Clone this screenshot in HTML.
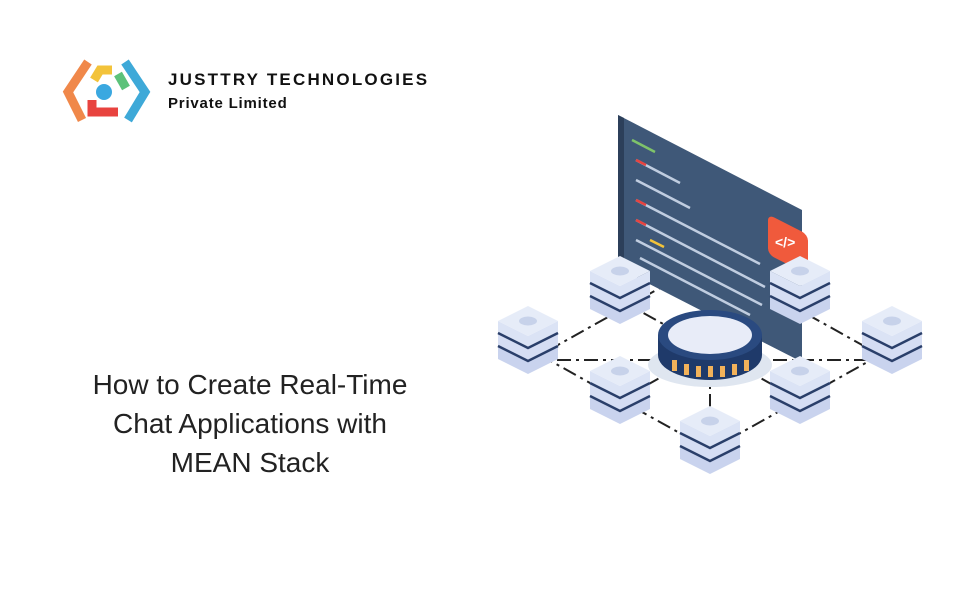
<!DOCTYPE html>
<html><head><meta charset="utf-8"><style>
body{margin:0;width:960px;height:600px;background:#fff;overflow:hidden;position:relative;font-family:"Liberation Sans",sans-serif}
.t{position:absolute;left:40px;width:420px;text-align:center;font-size:28px;color:#222;line-height:39px;top:365px}
.l1{position:absolute;left:168px;top:70px;font-size:17px;font-weight:bold;letter-spacing:2.2px;color:#111}
.l2{position:absolute;left:168px;top:95px;font-size:15px;font-weight:bold;letter-spacing:0.8px;color:#111}
</style></head><body>
<svg width="960" height="600" style="position:absolute;left:0;top:0">
<g stroke-width="9" fill="none" stroke-linecap="butt">
<path d="M88 62 L68 92 L82 120" stroke="#f0884a"/>
<path d="M94 80 L100 70 L112 70" stroke="#f3c33a"/>
<path d="M118 74 L126 88" stroke="#5cc27a"/>
<path d="M125 62 L145 92 L128 120" stroke="#3ea9d8"/>
<path d="M92 100 L92 112 L118 112" stroke="#e8433f"/>
</g>
<circle cx="104" cy="92" r="8" fill="#3aa8e0"/>
<g stroke="#222" stroke-width="2" stroke-dasharray="14 5 3 5" fill="none">
<path d="M540 355 L710 450 L880 355 L710 260 Z"/>
<path d="M530 360 L890 360"/>
<path d="M710 340 L710 445"/>
<path d="M620 300 L800 400 M800 300 L620 400"/>
</g>
<polygon points="618,115 802,210 802,362 618,268" fill="#3f5878"/>
<polygon points="618,115 624,118 624,271 618,268" fill="#2c3f5a"/>
<g stroke-width="2.5">
<line x1="632" y1="140" x2="655" y2="152" stroke="#7fc36a"/>
<line x1="636" y1="160" x2="680" y2="183" stroke="#c0cde0"/>
<line x1="636" y1="180" x2="690" y2="208" stroke="#c0cde0"/>
<line x1="636" y1="200" x2="760" y2="264" stroke="#c0cde0"/>
<line x1="636" y1="220" x2="765" y2="287" stroke="#c0cde0"/>
<line x1="636" y1="240" x2="762" y2="305" stroke="#c0cde0"/>
<line x1="640" y1="258" x2="750" y2="315" stroke="#c0cde0"/>
<line x1="636" y1="160" x2="646" y2="165" stroke="#e8433f"/>
<line x1="636" y1="200" x2="646" y2="205" stroke="#e8433f"/>
<line x1="636" y1="220" x2="646" y2="225" stroke="#e8433f"/>
<line x1="650" y1="240" x2="664" y2="247" stroke="#f3c33a"/>
</g>
<rect x="768" y="215" width="40" height="40" rx="6" fill="#f05a3c" transform="skewY(27) translate(0,-392)"/>
<text x="775" y="247" font-size="14" font-weight="bold" fill="#fff" font-family="Liberation Sans">&lt;/&gt;</text>
<ellipse cx="710" cy="365" rx="62" ry="22" fill="#dfe6f0"/>
<path d="M658 335 L658 355 A52 25 0 0 0 762 355 L762 335 Z" fill="#1f3a6a"/>
<g fill="#f2b25a">
<rect x="672" y="360" width="5" height="11"/><rect x="684" y="364" width="5" height="11"/><rect x="696" y="366" width="5" height="11"/><rect x="708" y="366" width="5" height="11"/><rect x="720" y="366" width="5" height="11"/><rect x="732" y="364" width="5" height="11"/><rect x="744" y="360" width="5" height="11"/>
</g>
<ellipse cx="710" cy="335" rx="52" ry="25" fill="#2a4a80"/>
<ellipse cx="710" cy="335" rx="42" ry="19" fill="#e8ecf8"/>
<defs>
<g id="s">
<polygon points="-30,25 0,40 30,25 30,37 0,52 -30,37" fill="#c9d3ee"/>
<polygon points="-30,12 0,27 30,12 30,24 0,39 -30,24" fill="#d5ddf3"/>
<polygon points="-30,-1 0,14 30,-1 30,11 0,26 -30,11" fill="#dbe3f5"/>
<polygon points="-30,-1 0,-16 30,-1 0,14" fill="#e6ecf8"/>
<ellipse cx="0" cy="-1" rx="9" ry="4.5" fill="#c7d2ea"/>
<path d="M-30 11 L0 26 L30 11 M-30 24 L0 39 L30 24" stroke="#2a3f6a" stroke-width="2.5" fill="none"/>
</g>
</defs>
<use href="#s" x="620" y="272"/>
<use href="#s" x="800" y="272"/>
<use href="#s" x="528" y="322"/>
<use href="#s" x="892" y="322"/>
<use href="#s" x="620" y="372"/>
<use href="#s" x="800" y="372"/>
<use href="#s" x="710" y="422"/>
</svg>
<div class="l1">JUSTTRY TECHNOLOGIES</div>
<div class="l2">Private Limited</div>
<div class="t">How to Create Real-Time<br>Chat Applications with<br>MEAN Stack</div>
</body></html>
